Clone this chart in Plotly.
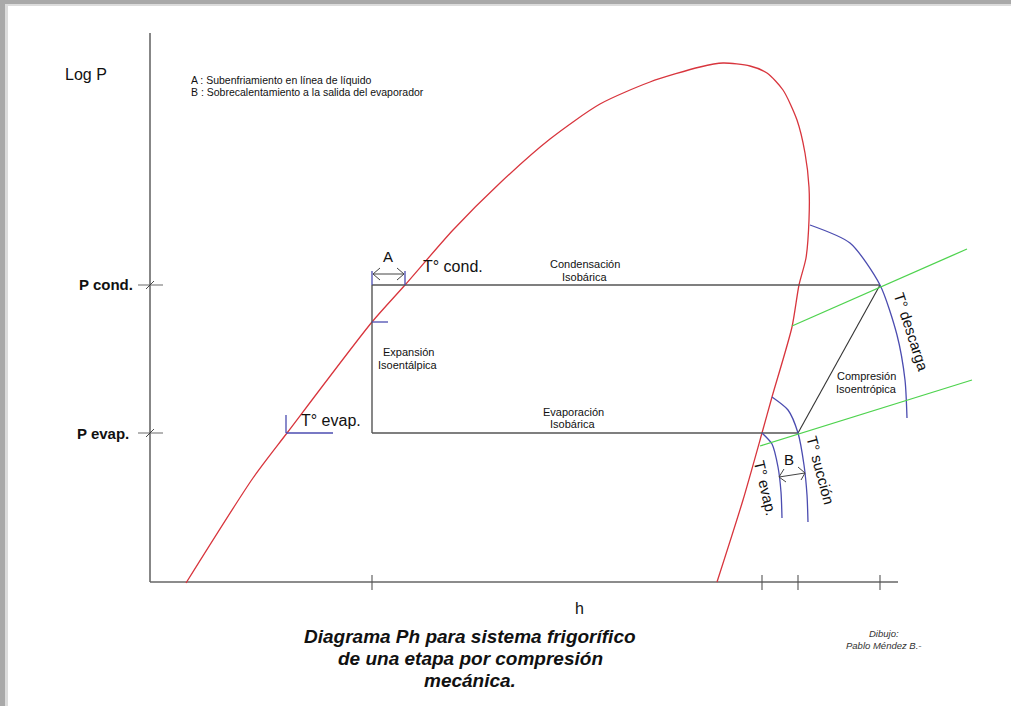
import plotly.graph_objects as go

# ---- diagram values (h = enthalpy position, p = log P position, drawing units) ----
P_COND = 285
P_EVAP = 433
H_EXP = 372           # isenthalpic expansion enthalpy
H_SAT_VAP = 762       # saturated vapour at evaporation
H_SUCTION = 798       # suction (after superheat)
H_DISCHARGE = 880     # compressor discharge
H_LIQ_SAT = 405       # saturated liquid at condensation

# saturation dome
dome_h = [186, 253, 287, 372, 405, 453, 500, 550, 600, 650, 700, 723, 750, 767, 783, 797, 805, 809, 809, 806, 799, 792, 772, 762, 743, 717]
dome_p = [583, 478, 433, 322, 285, 230, 183, 139, 104, 82, 67, 63, 66, 73, 90, 120, 153, 187, 220, 258, 285, 327, 397, 433, 500, 582]

# isotherms
descarga_h = [810, 850, 880, 897, 905, 907]
descarga_p = [225, 243, 285, 335, 380, 418]
succion_h = [772, 788, 798, 804, 807, 808]
succion_p = [397, 410, 433, 465, 495, 522]
tevap_h = [762, 772, 778, 781, 782]
tevap_p = [433, 444, 467, 492, 518]

# isentropes (green)
isen_hi_h = [792, 967]
isen_hi_p = [326, 249]
isen_lo_h = [760, 972]
isen_lo_p = [446, 380]

# axes
axis_h = [150, 898]
axis_p_top = 33
axis_p_bottom = 582
h_ticks = [H_EXP, H_SAT_VAP, H_SUCTION, H_DISCHARGE]
p_ticks = [P_COND, P_EVAP]
p_tick_labels = ["P cond.", "P evap."]

legend_lines = ["A : Subenfriamiento en línea de líquido",
                "B : Sobrecalentamiento a la salida del evaporador"]
title_lines = ["Diagrama Ph para sistema frigorífico",
               "de una etapa por compresión",
               "mecánica."]

RED = "#d8353d"
BLUE = "#4b4cb0"
GREEN = "#4fd34f"
DARK = "#444444"
AXIS = "#7a7a7a"
FONT = "Liberation Sans, Arial, sans-serif"

fig = go.Figure()


def line(xs, ys, color, width=1.2, shape="linear"):
    ln = dict(color=color, width=width, shape=shape)
    if shape == "spline":
        ln["smoothing"] = 0.7
    fig.add_trace(go.Scatter(x=xs, y=ys, mode="lines", line=ln,
                             hoverinfo="skip", showlegend=False))


# axes
line([axis_h[0], axis_h[0]], [axis_p_top, axis_p_bottom], AXIS, 1.8)
line(axis_h, [axis_p_bottom, axis_p_bottom], "#666666", 1.6)
for h in h_ticks:
    line([h, h], [axis_p_bottom - 7, axis_p_bottom + 8], "#555555", 1.1)
for p in p_ticks:
    line([axis_h[0] - 12, axis_h[0] + 13], [p, p], "#777777", 1.1)
    line([axis_h[0] - 4, axis_h[0] + 4], [p + 4, p - 4], "#333333", 0.9)

# dome
line(dome_h, dome_p, RED, 1.3, "spline")

# cycle
line([H_EXP, H_DISCHARGE], [P_COND, P_COND], "#555555", 1.4)
line([H_EXP, H_SUCTION], [P_EVAP, P_EVAP], "#555555", 1.4)
line([H_EXP, H_EXP], [P_COND, P_EVAP], "#555555", 1.4)
line([H_SUCTION, H_DISCHARGE], [P_EVAP, P_COND], "#333333", 1.1)

# isotherms & isentropes
line(descarga_h, descarga_p, BLUE, 1.3, "spline")
line(succion_h, succion_p, BLUE, 1.3, "spline")
line(tevap_h, tevap_p, BLUE, 1.3, "spline")
line(isen_hi_h, isen_hi_p, GREEN, 1.3)
line(isen_lo_h, isen_lo_p, GREEN, 1.3)

# blue markers
line([H_EXP, H_EXP], [P_COND - 14, P_COND], BLUE, 1.3)
line([H_LIQ_SAT, H_LIQ_SAT], [P_COND - 14, P_COND], BLUE, 1.3)
line([H_EXP, H_EXP + 16], [322, 322], BLUE, 1.3)
line([286, 286], [P_EVAP - 18, P_EVAP], BLUE, 1.3)
line([286, 333], [P_EVAP, P_EVAP], BLUE, 1.3)

# dimension arrows A and B
line([H_EXP + 1, H_LIQ_SAT - 1], [274, 274], DARK, 1.0)
line([H_EXP + 8, H_EXP + 1, H_EXP + 8], [268, 274, 280], DARK, 1.0)
line([H_LIQ_SAT - 8, H_LIQ_SAT - 1, H_LIQ_SAT - 8], [268, 274, 280], DARK, 1.0)
line([779, 805], [477, 473], DARK, 1.0)
line([784, 779, 786], [469, 477, 482], DARK, 1.0)
line([798, 805, 801], [467, 473, 480], DARK, 1.0)

ann = []


def text(x, y, s, size, xanchor="center", angle=0, bold=False, italic=False, color="#111111"):
    ann.append(dict(x=x, y=y, xref="x", yref="y", text=s, showarrow=False,
                    xanchor=xanchor, yanchor="middle", textangle=angle,
                    font=dict(family=FONT, size=size, color=color,
                              weight="bold" if bold else "normal",
                              style="italic" if italic else "normal")))


text(63, 74, "Log P", 16, xanchor="left")
text(189, 80, legend_lines[0], 10.5, xanchor="left")
text(189, 92, legend_lines[1], 10.5, xanchor="left")
text(135, 284, p_tick_labels[0], 15, xanchor="right", bold=True)
text(131, 433, p_tick_labels[1], 15, xanchor="right", bold=True)
text(388, 256, "A", 15)
text(453, 266, "T° cond.", 16)
text(585, 264, "Condensación", 11)
text(585, 277, "Isobárica", 11)
text(408, 352, "Expansión", 11)
text(408, 365, "Isoentálpica", 11)
text(573, 412, "Evaporación", 11)
text(573, 424, "Isobárica", 11)
text(331, 420, "T° evap.", 16)
text(866, 376, "Compresión", 11)
text(866, 389, "Isoentrópica", 11)
text(912, 332, "T° descarga", 15, angle=72)
text(821, 470, "T° succión", 15, angle=75)
text(766, 488, "T° evap.", 15, angle=77)
text(789, 459, "B", 15)
text(579, 608, "h", 16)
for i, s in enumerate(title_lines):
    text(470, 636 + 22 * i, s, 19, bold=True, italic=True)
text(884, 633, "Dibujo:", 9.5, italic=True, color="#333333")
text(884, 645, "Pablo Méndez B.-", 9.5, italic=True, color="#333333")

shapes = [
    dict(type="rect", xref="x", yref="y", x0=0, x1=5, y0=0, y1=706, fillcolor="#a9a9a9", line_width=0, layer="below"),
    dict(type="rect", xref="x", yref="y", x0=5, x1=8, y0=0, y1=706, fillcolor="#dcdcdc", line_width=0, layer="below"),
    dict(type="rect", xref="x", yref="y", x0=0, x1=1011, y0=0, y1=4, fillcolor="#a9a9a9", line_width=0, layer="below"),
    dict(type="rect", xref="x", yref="y", x0=5, x1=1011, y0=4, y1=6, fillcolor="#dcdcdc", line_width=0, layer="below"),
]

fig.update_layout(
    width=1011, height=706,
    margin=dict(l=0, r=0, t=0, b=0),
    paper_bgcolor="white", plot_bgcolor="white",
    xaxis=dict(range=[0, 1011], visible=False, fixedrange=True),
    yaxis=dict(range=[706, 0], visible=False, fixedrange=True),
    annotations=ann, shapes=shapes, showlegend=False,
)

fig.write_html("out.html", config={"displayModeBar": False},
               post_script="document.body.style.margin='0';document.body.style.padding='0';document.body.style.overflow='hidden';")
